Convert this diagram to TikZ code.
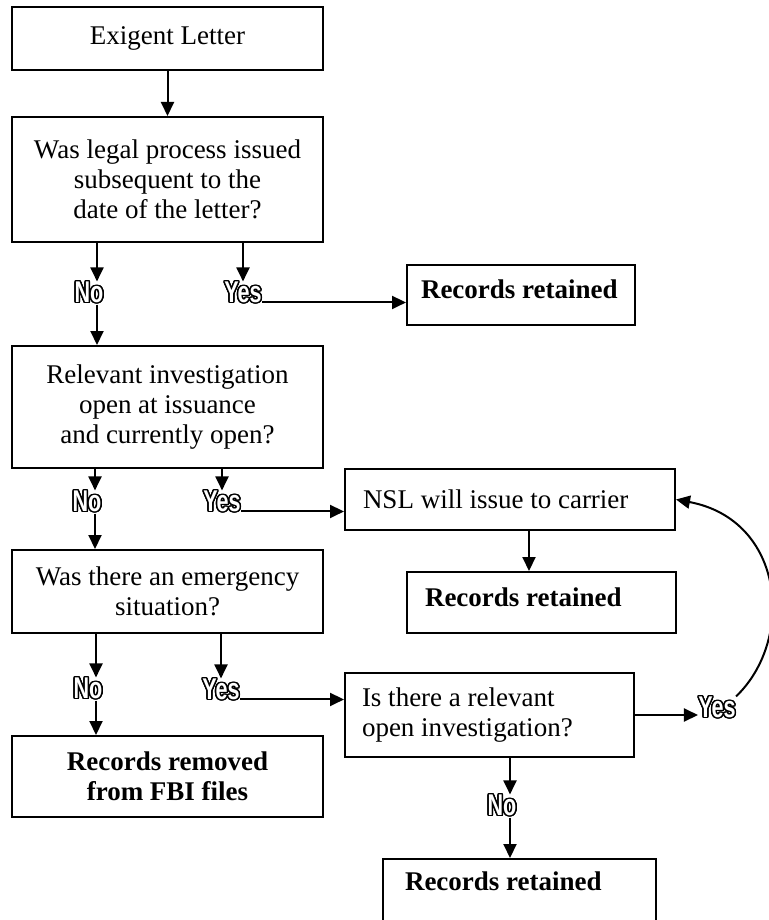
\documentclass[tikz,border=0pt]{standalone}
\usepackage{fontspec}
\setmainfont{Liberation Serif}
\newfontfamily\yesnofont[FakeStretch=0.72]{Liberation Sans}
\usepackage{contour}
\contourlength{0.7pt}
\contournumber{24}
\usetikzlibrary{arrows.meta}
\newcommand{\hollow}[1]{\contour{black}{#1}}

\begin{document}
\begin{tikzpicture}[x=0.5pt,y=-0.5pt,
    font=\fontsize{13.5}{15}\selectfont,
    every node/.style={inner sep=0pt},
    box/.style={draw,line width=1pt,align=center,minimum width=155.5pt},
    lbox/.style={draw,line width=1pt,align=flush left},
    yn/.style={text=white,font=\yesnofont\bfseries\fontsize{15}{15}\selectfont},
    arr/.style={line width=1pt,-{Triangle[length=7pt,width=6.5pt]}}]
  \useasboundingbox (0,0) rectangle (768,920);

  \node[box,minimum height=31.5pt] (a) at (167.5,38.5) {Exigent Letter};
  \node[box,minimum height=62.5pt] (b) at (167.5,179.5) {Was legal process issued\\subsequent to the\\date of the letter?};
  \node[box,minimum height=61pt] (c) at (167.5,407) {Relevant investigation\\open at issuance\\and currently open?};
  \node[box,minimum height=41.5pt] (d) at (167.5,591.5) {Was there an emergency\\situation?};
  \node[box,minimum height=40.5pt,font=\fontsize{13.5}{15}\selectfont\bfseries] (f) at (167.5,776.5) {Records removed\\from FBI files};

  \node[lbox,minimum width=114pt,minimum height=30pt,text width=100pt,text depth=5.5pt,font=\fontsize{13.5}{15}\selectfont\bfseries] (rr1) at (521,295) {Records retained};
  \node[lbox,minimum width=165pt,minimum height=30.5pt,text width=147pt] (nsl) at (510,499.5) {NSL will issue to carrier};
  \node[lbox,minimum width=134.5pt,minimum height=30.5pt,text width=116.5pt,text depth=5.5pt,font=\fontsize{13.5}{15}\selectfont\bfseries] (rr2) at (541.5,602.5) {Records retained};
  \node[lbox,minimum width=144.5pt,minimum height=42pt,text width=127.5pt] (e) at (489.5,715) {Is there a relevant\\open investigation?};
  \node[lbox,minimum width=136.5pt,minimum height=36pt,text width=114.5pt,text depth=13.5pt,font=\fontsize{13.5}{15}\selectfont\bfseries] (rr3) at (519.5,895) {Records retained};

  \node[yn] (no1) at (89,293) {\hollow{No}};
  \node[yn] (yes1) at (243,293) {\hollow{Yes}};
  \node[yn] (no2) at (87,502) {\hollow{No}};
  \node[yn] (yes2) at (222,502) {\hollow{Yes}};
  \node[yn] (no3) at (88,689) {\hollow{No}};
  \node[yn] (yes3) at (221,690) {\hollow{Yes}};
  \node[yn] (no4) at (502,806) {\hollow{No}};
  \node[yn] (yes4) at (717,708) {\hollow{Yes}};

  \draw[arr] (a) -- (b);
  \draw[arr] ([xshift=4pt]no1.north |- b.south) -- ([xshift=4pt]no1.north);
  \draw[arr] ([xshift=4pt]no1.south) -- ([xshift=4pt]no1.south |- c.north);
  \draw[arr] (yes1.north |- b.south) -- (yes1.north);
  \draw[arr] (yes1.base east) -- (yes1.base east -| rr1.west);

  \draw[arr] ([xshift=4pt]no2.north |- c.south) -- ([xshift=4pt]no2.north);
  \draw[arr] ([xshift=4pt]no2.south) -- ([xshift=4pt]no2.south |- d.north);
  \draw[arr] (yes2.north |- c.south) -- (yes2.north);
  \draw[arr] (yes2.base east) -- (yes2.base east -| nsl.west);
  \draw[arr] ([xshift=9.5pt]nsl.south) -- ([xshift=9.5pt]nsl.south |- rr2.north);

  \draw[arr] ([xshift=4pt]no3.north |- d.south) -- ([xshift=4pt]no3.north);
  \draw[arr] ([xshift=4pt]no3.south) -- ([xshift=4pt]no3.south |- f.north);
  \draw[arr] (yes3.north |- d.south) -- (yes3.north);
  \draw[arr] (yes3.base east) -- (yes3.base east -| e.west);

  \draw[arr] (e.east) -- (e.east -| yes4.west);
  \draw[arr] (yes4.north east) .. controls (795,640) and (785,520) .. (nsl.east);
  \draw[arr] ([xshift=4pt]no4.north |- e.south) -- ([xshift=4pt]no4.north);
  \draw[arr] ([xshift=4pt]no4.south) -- ([xshift=4pt]no4.south |- rr3.north);
\end{tikzpicture}
\end{document}
